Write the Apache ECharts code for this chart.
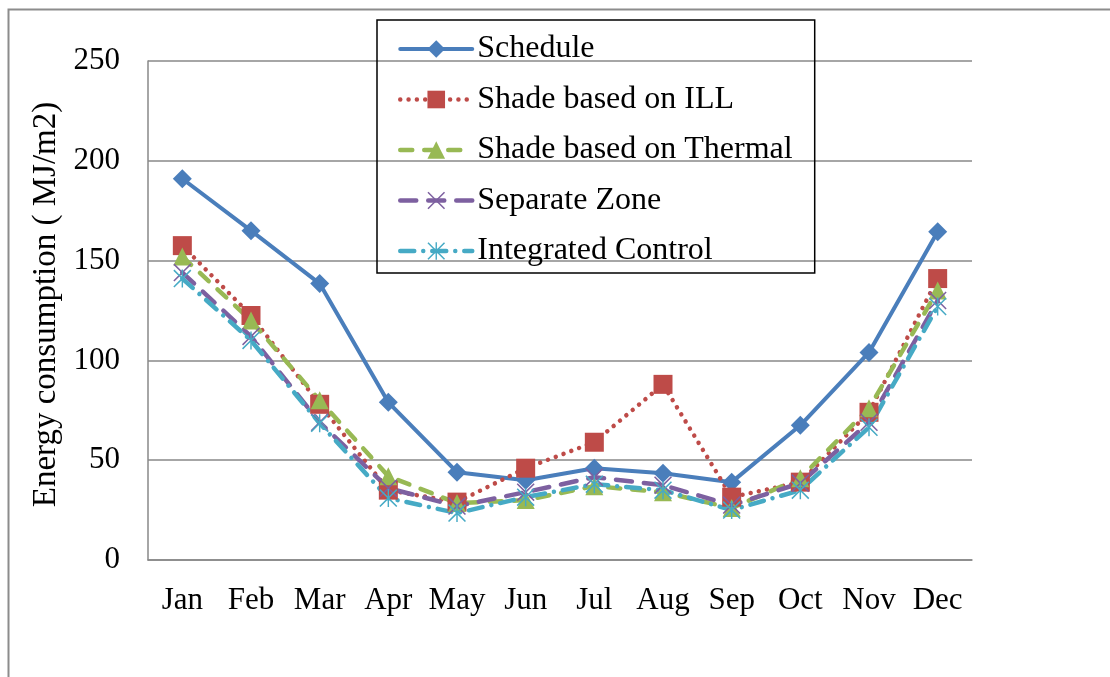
<!DOCTYPE html>
<html>
<head>
<meta charset="utf-8">
<title>Monthly energy consumption</title>
<script src="https://cdn.jsdelivr.net/npm/echarts@6/dist/echarts.min.js"></script>
<style>
  html, body { margin: 0; padding: 0; background: #ffffff; }
  #chart { width: 1110px; height: 677px; }
</style>
</head>
<body>
<div id="chart"></div>
<script>
// Monthly energy consumption (MJ/m2) for each shading / lighting control strategy
const months = ['Jan', 'Feb', 'Mar', 'Apr', 'May', 'Jun', 'Jul', 'Aug', 'Sep', 'Oct', 'Nov', 'Dec'];
const schedule   = [191, 165, 138.5, 79, 44, 40, 46, 43.5, 39, 67.5, 104, 164.5];
const shadeILL   = [157.5, 122.5, 78, 35, 29, 46, 59, 88, 31.5, 39, 74, 141];
const shadeTherm = [152, 120, 80, 42, 28.5, 30, 37, 34, 26, 41, 76, 135];
const separate   = [144, 112, 69, 36, 27, 34, 41.5, 37.5, 27.5, 38.5, 69, 130];
const integrated = [141, 110, 68.5, 31, 23.5, 31.5, 38, 35, 25, 35, 66.5, 127];
const yTicks = { min: 0, max: 250, interval: 50 };

const FONT = "'Liberation Serif', 'Times New Roman', serif";

// thin-stroke marker shapes drawn as filled outlines
const crossPath = 'path://M0,1.2 L1.2,0 L10,8.8 L18.8,0 L20,1.2 L11.2,10 L20,18.8 L18.8,20 L10,11.2 L1.2,20 L0,18.8 L8.8,10 Z';
const starPath = 'path://M0,1.2 L1.2,0 L10,8.8 L18.8,0 L20,1.2 L11.2,10 L20,18.8 L18.8,20 L10,11.2 L1.2,20 L0,18.8 L8.8,10 Z ' +
                 'M9.2,0 L10.8,0 L10.8,20 L9.2,20 Z';

const styles = [
  { name: 'Schedule',               data: schedule,   color: '#4a7ebb', symbol: 'diamond',  size: 19, dash: 'solid',            width: 4 },
  { name: 'Shade based on ILL',     data: shadeILL,   color: '#be4b48', symbol: 'rect',     size: 19, dash: [0.01, 8.3],        width: 4.5 },
  { name: 'Shade based on Thermal', data: shadeTherm, color: '#98b954', symbol: 'triangle', size: 18, dash: [12, 12],           width: 4.5 },
  { name: 'Separate Zone',          data: separate,   color: '#7d60a0', symbol: crossPath,  size: 18, dash: [16, 12],           width: 4.5 },
  { name: 'Integrated Control',     data: integrated, color: '#46aac5', symbol: starPath,   size: 18, dash: [14, 9, 0.01, 9],   width: 4.5 }
];

const chart = echarts.init(document.getElementById('chart'), null, { renderer: 'canvas' });

chart.setOption({
  animation: false,
  backgroundColor: '#ffffff',
  graphic: [{
    type: 'rect',
    left: 6, top: 7,
    shape: { width: 1200, height: 800 },
    style: { fill: 'none', stroke: '#8c8c8c', lineWidth: 2 },
    silent: true
  }],
  grid: { left: 148, top: 61, right: 138, bottom: 117, containLabel: false },
  legend: {
    orient: 'vertical',
    left: 377, top: 20,
    padding: [12, 22, 5, 21],
    itemWidth: 72,
    itemHeight: 22,
    itemGap: 16.5,
    borderColor: '#000000',
    borderWidth: 1.5,
    textStyle: { fontFamily: FONT, fontSize: 32, lineHeight: 34, color: '#000000' },
    data: styles.map(s => ({
      name: s.name,
      lineStyle: { width: s.width, type: s.dash, cap: 'round', color: s.color }
    }))
  },
  xAxis: {
    type: 'category',
    data: months,
    axisLine: { lineStyle: { color: '#888888', width: 1.5 } },
    axisTick: { show: false },
    axisLabel: { fontFamily: FONT, fontSize: 31, color: '#000000', margin: 25, interval: 0 }
  },
  yAxis: {
    type: 'value',
    min: yTicks.min, max: yTicks.max, interval: yTicks.interval,
    name: 'Energy consumption ( MJ/m2)',
    nameLocation: 'middle',
    nameGap: 85,
    nameTextStyle: { fontFamily: FONT, fontSize: 33, color: '#000000', padding: [0, 0, 0, 12] },
    axisLine: { show: true, lineStyle: { color: '#888888', width: 1.5 } },
    axisTick: { show: false },
    axisLabel: { fontFamily: FONT, fontSize: 31, color: '#000000', margin: 28 },
    splitLine: { lineStyle: { color: '#888888', width: 1.5 } }
  },
  series: styles.map(s => ({
    name: s.name,
    type: 'line',
    data: s.data,
    symbol: s.symbol,
    symbolSize: s.size,
    showSymbol: true,
    itemStyle: { color: s.color },
    lineStyle: { color: s.color, width: s.width, type: s.dash, cap: 'round', join: 'round' },
    emphasis: { disabled: true }
  }))
});
</script>
</body>
</html>
